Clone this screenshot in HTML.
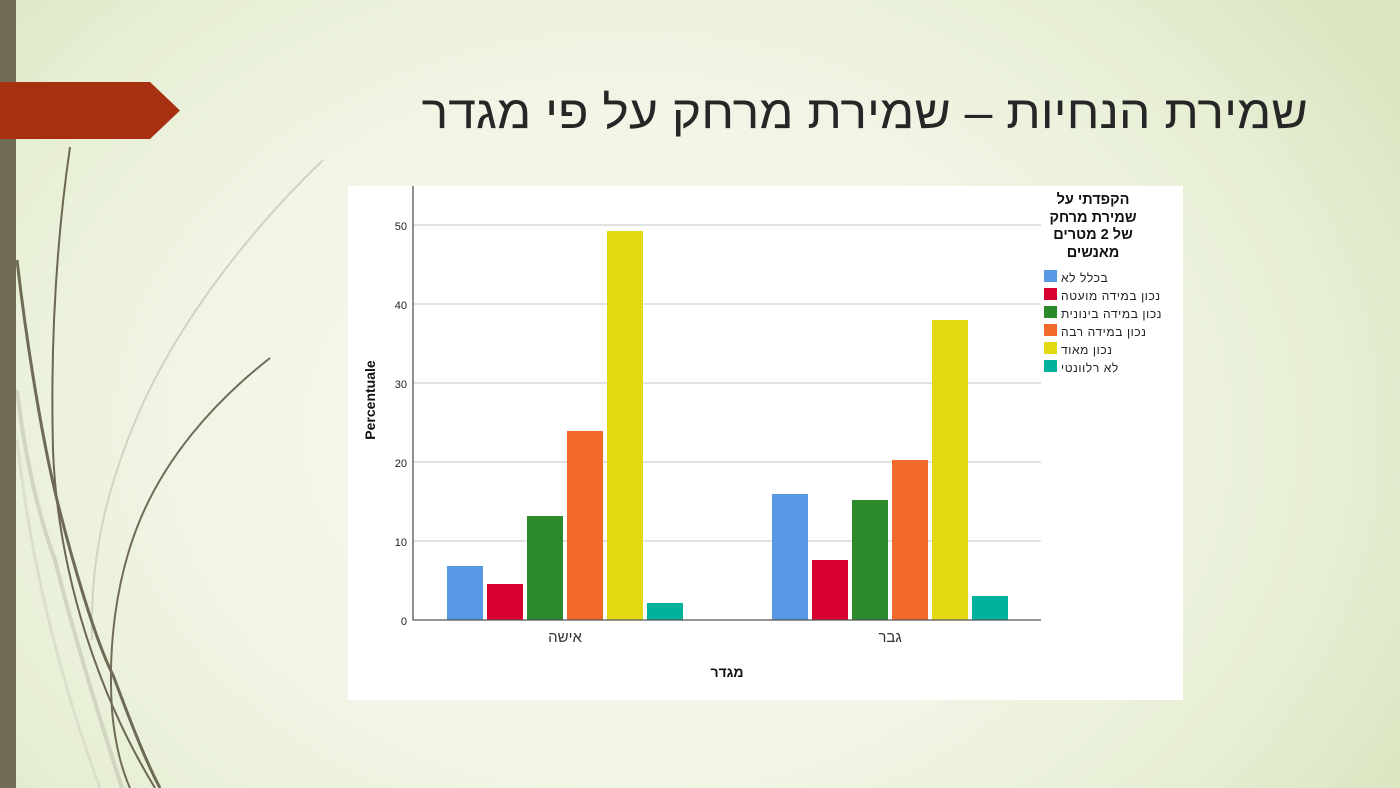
<!DOCTYPE html>
<html>
<head>
<meta charset="utf-8">
<style>
  html,body{margin:0;padding:0;}
  body{width:1400px;height:788px;overflow:hidden;position:relative;
    background: radial-gradient(ellipse 900px 700px at 45% 55%, #f7f9f0 0%, #f1f5e5 50%, #e6eed3 80%, #dbe5c0 100%);
    font-family:"Liberation Sans","DejaVu Sans",sans-serif;}
  .abs{position:absolute;white-space:nowrap;}
  .rtl{direction:rtl;}
</style>
</head>
<body>
<!-- decorative left -->
<svg class="abs" style="left:0;top:0" width="400" height="788" viewBox="0 0 400 788">
  <path d="M323,160 C250,230 180,320 140,410 C105,490 90,560 92,640" fill="none" stroke="#c9ccbb" stroke-width="2" opacity="0.8"/>
  <path d="M17,390 C25,460 40,520 55,560 C75,640 100,720 122,788" fill="none" stroke="#c8cbb6" stroke-width="4" opacity="0.7"/>
  <path d="M17,440 C30,560 60,680 100,788" fill="none" stroke="#d2d5c2" stroke-width="3" opacity="0.6"/>
  <path d="M70,147 C58,230 50,330 53,450 C56,530 75,610 100,675 C115,715 135,755 155,788" fill="none" stroke="#6c6753" stroke-width="2"/>
  <path d="M17,260 C25,330 40,430 57,500 C72,560 95,640 113,675 C128,715 145,760 160,788" fill="none" stroke="#6f6a55" stroke-width="3"/>
  <path d="M270,358 C210,405 165,460 140,520 C115,580 108,650 112,710 C115,745 122,770 130,788" fill="none" stroke="#716c57" stroke-width="2"/>
  <rect x="0" y="0" width="16" height="788" fill="#716b55"/>
  <polygon points="0,82 150,82 180,110.5 150,139 0,139" fill="#a6300f"/>
</svg>

<!-- title -->
<div class="abs rtl" style="right:92px;top:82px;font-size:46px;line-height:60px;color:#262626;transform:scaleX(1.085);transform-origin:right center;">שמירת הנחיות – שמירת מרחק על פי מגדר</div>

<!-- chart box -->
<div class="abs" style="left:348px;top:186px;width:835px;height:514px;background:#ffffff;"></div>

<svg class="abs" style="left:0;top:0" width="1400" height="788" viewBox="0 0 1400 788">
  <!-- gridlines -->
  <g stroke="#c6c6c6" stroke-width="1">
    <line x1="413" y1="541" x2="1041" y2="541"/>
    <line x1="413" y1="462" x2="1041" y2="462"/>
    <line x1="413" y1="383" x2="1041" y2="383"/>
    <line x1="413" y1="304" x2="1041" y2="304"/>
    <line x1="413" y1="225" x2="1041" y2="225"/>
  </g>
  <!-- bars women -->
  <rect x="447" y="566" width="36" height="54" fill="#5897e4"/>
  <rect x="487" y="584" width="36" height="36" fill="#d7002f"/>
  <rect x="527" y="516" width="36" height="104" fill="#2a8a2c"/>
  <rect x="567" y="431" width="36" height="189" fill="#f26a2b"/>
  <rect x="607" y="231" width="36" height="389" fill="#e2d912"/>
  <rect x="647" y="603" width="36" height="17" fill="#00b29e"/>
  <!-- bars men -->
  <rect x="772" y="494" width="36" height="126" fill="#5897e4"/>
  <rect x="812" y="560" width="36" height="60" fill="#d7002f"/>
  <rect x="852" y="500" width="36" height="120" fill="#2a8a2c"/>
  <rect x="892" y="460" width="36" height="160" fill="#f26a2b"/>
  <rect x="932" y="320" width="36" height="300" fill="#e2d912"/>
  <rect x="972" y="596" width="36" height="24" fill="#00b29e"/>
  <!-- axes -->
  <line x1="413" y1="186" x2="413" y2="620.5" stroke="#555" stroke-width="1.3"/>
  <line x1="413" y1="620" x2="1041" y2="620" stroke="#555" stroke-width="1.3"/>
  <!-- y ticks -->
  <g font-family="Liberation Sans, sans-serif" font-size="11" fill="#222" text-anchor="end">
    <text x="407" y="625">0</text>
    <text x="407" y="546">10</text>
    <text x="407" y="467">20</text>
    <text x="407" y="388">30</text>
    <text x="407" y="309">40</text>
    <text x="407" y="230">50</text>
  </g>
  <text transform="translate(375,400) rotate(-90)" text-anchor="middle" font-family="Liberation Sans, sans-serif" font-size="14" font-weight="bold" fill="#111">Percentuale</text>
  <!-- legend swatches -->
  <rect x="1044" y="270" width="13" height="12" fill="#5897e4"/>
  <rect x="1044" y="288" width="13" height="12" fill="#d7002f"/>
  <rect x="1044" y="306" width="13" height="12" fill="#2a8a2c"/>
  <rect x="1044" y="324" width="13" height="12" fill="#f26a2b"/>
  <rect x="1044" y="342" width="13" height="12" fill="#e2d912"/>
  <rect x="1044" y="360" width="13" height="12" fill="#00b29e"/>
</svg>

<!-- x labels -->
<div class="abs rtl" style="left:525px;width:80px;top:629px;text-align:center;font-size:15px;color:#333;">אישה</div>
<div class="abs rtl" style="left:850px;width:80px;top:629px;text-align:center;font-size:15px;color:#333;">גבר</div>
<div class="abs rtl" style="left:687px;width:80px;top:664px;text-align:center;font-size:14px;font-weight:bold;color:#111;">מגדר</div>

<!-- legend title -->
<div class="abs rtl" style="left:1033px;width:120px;top:192px;text-align:center;font-size:14.5px;font-weight:bold;line-height:17.5px;color:#111;">הקפדתי על<br>שמירת מרחק<br>של 2 מטרים<br>מאנשים</div>

<!-- legend labels -->
<div class="abs" style="left:1061px;top:269px;font-size:12px;line-height:18px;color:#222;letter-spacing:0.6px;">
  <div dir="rtl" style="text-align:left;">בכלל לא</div>
  <div dir="rtl" style="text-align:left;">נכון במידה מועטה</div>
  <div dir="rtl" style="text-align:left;">נכון במידה בינונית</div>
  <div dir="rtl" style="text-align:left;">נכון במידה רבה</div>
  <div dir="rtl" style="text-align:left;">נכון מאוד</div>
  <div dir="rtl" style="text-align:left;">לא רלוונטי</div>
</div>
</body>
</html>
